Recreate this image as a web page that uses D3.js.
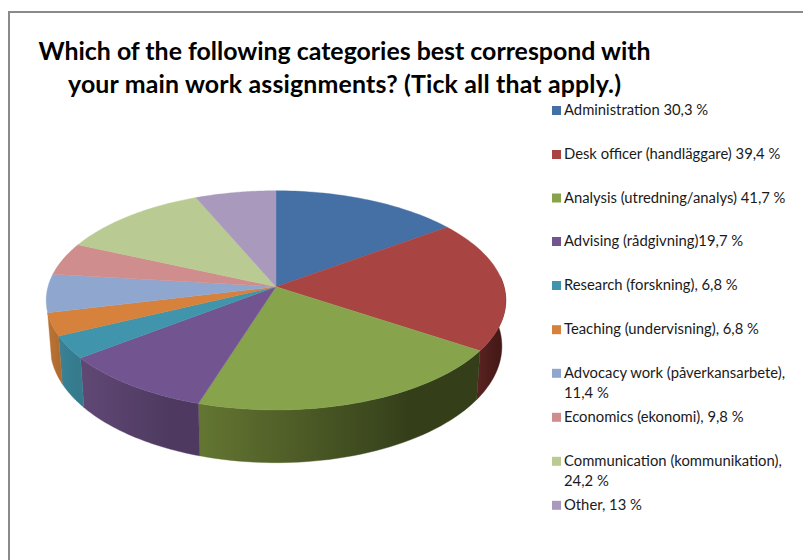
<!DOCTYPE html>
<html><head><meta charset="utf-8">
<script src="https://cdn.jsdelivr.net/npm/d3@7/dist/d3.min.js"></script>
<style>html,body{margin:0;padding:0;background:#fff}svg{display:block}text{font-family:Lato,"Open Sans",sans-serif}</style>
</head><body><svg id="c" width="803" height="560"></svg>
<script>
const categories=["Administration","Desk officer","Analysis","Advising","Research","Teaching","Advocacy work","Economics","Communication","Other"];
const values=[30.3,39.4,41.7,19.7,6.8,6.8,11.4,9.8,24.2,13];
const colors=["#4570a5","#a84442","#87a44d","#725590","#4095ad","#d6813c","#8fa7cf","#cf8e8d","#b9cb92","#a899bd"];
const wallLeft=["#2d4a6e","#5a2321","#647632","#604875","#3a8296","#bb7434","#5f7090","#8a5f5e","#7c8861","#70667e"];
const wallRight=["#2d4a6e","#451917","#343f1a","#4e3a60","#357a8d","#b06c30","#5f7090","#8a5f5e","#7c8861","#70667e"];
const legendLines=[["Administration 30,3 %"],["Desk officer (handläggare) 39,4 %"],["Analysis (utredning/analys) 41,7 %"],["Advising (rådgivning)19,7 %"],["Research (forskning), 6,8 %"],["Teaching (undervisning), 6,8 %"],["Advocacy work (påverkansarbete),","11,4 %"],["Economics (ekonomi), 9,8 %"],["Communication (kommunikation),","24,2 %"],["Other, 13 %"]];
const titleLines=["Which of the following categories best correspond with","your main work assignments? (Tick all that apply.)"];
const titleWidths=[612,553];

const svg=d3.select("#c");
svg.append("path").attr("d","M9,560V12H803").attr("fill","none").attr("stroke","#8a8a8a").attr("stroke-width",2);

titleLines.forEach((t,i)=>svg.append("text").attr("x",344.5).attr("y",60+i*32.7).attr("text-anchor","middle").attr("font-weight",700).attr("font-size",24.9).attr("textLength",titleWidths[i]).attr("lengthAdjust","spacing").attr("fill","#000").text(t));

// Perspective projection of the pie disc
const cx=276,cy=286.7,B=228,A=107.9,k=0.1244;
const project=a=>{const u=Math.sin(a),v=-Math.cos(a),d=1-k*v;return [cx+B*u/d,cy+A*v/d];};
const projectBottom=a=>{const [x,y]=project(a);const off=y-cy;return [cx+(x-cx)*0.983,y+45+0.063*off];};
const pie=d3.pie().sort(null).value(d=>d)(values);
const line=d3.line();
const samples=(s,e)=>d3.range(0,41).map(i=>s+(e-s)*i/40);

const defs=svg.append("defs");
const wallStart=Math.PI*0.47,wallEnd=pie[5].endAngle;
pie.forEach((p,i)=>{
  const s=Math.max(p.startAngle,wallStart),e=Math.min(p.endAngle,wallEnd);
  if(e<=s)return;
  const g=defs.append("linearGradient").attr("id","w"+i).attr("x1",0).attr("x2",1).attr("y1",0).attr("y2",0);
  g.append("stop").attr("offset",0).attr("stop-color",wallLeft[i]);
  g.append("stop").attr("offset",0.75).attr("stop-color",wallRight[i]);
  const top=samples(s,e).map(project),bot=samples(s,e).map(projectBottom).reverse();
  svg.append("path").attr("d",line(top.concat(bot))+"Z").attr("fill",`url(#w${i})`).attr("stroke",`url(#w${i})`).attr("stroke-width",0.4);
});
pie.forEach((p,i)=>{
  const pts=[[cx,cy]].concat(samples(p.startAngle,p.endAngle).map(project));
  svg.append("path").attr("d",line(pts)+"Z").attr("fill",colors[i]).attr("stroke",colors[i]).attr("stroke-width",0.4);
});

// Legend
const legendY=[110.5,154.5,198,241.5,285.5,329.7,373.3,417.3,461.3,505.3];
legendLines.forEach((ls,i)=>{
  svg.append("rect").attr("x",552).attr("y",legendY[i]-4.5).attr("width",9).attr("height",9).attr("fill",colors[i]);
  ls.forEach((t,j)=>svg.append("text").attr("x",564).attr("y",legendY[i]+4.5+j*20).attr("font-size",14.8).attr("fill","#1a1a1a").text(t));
});
</script></body></html>
